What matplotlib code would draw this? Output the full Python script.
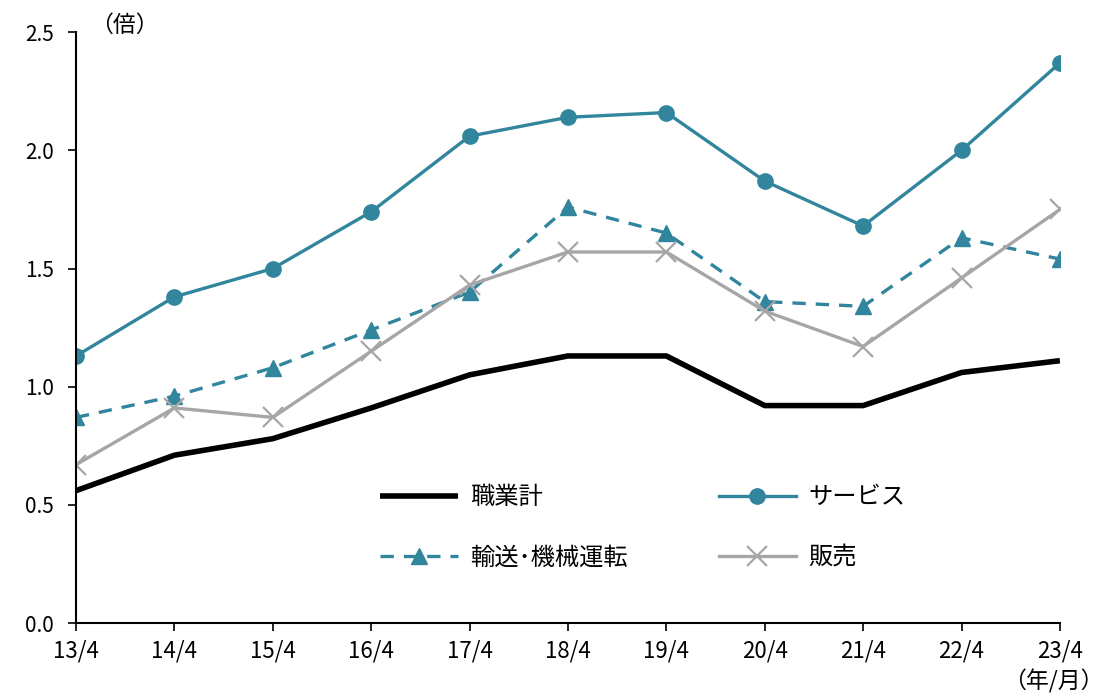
import matplotlib
matplotlib.use("Agg")
import matplotlib.pyplot as plt

plt.rcParams['font.family'] = ['Noto Sans CJK JP', 'DejaVu Sans']

categories = ["13/4", "14/4", "15/4", "16/4", "17/4", "18/4", "19/4", "20/4", "21/4", "22/4", "23/4"]
total = [0.56, 0.71, 0.78, 0.91, 1.05, 1.13, 1.13, 0.92, 0.92, 1.06, 1.11]
service = [1.13, 1.38, 1.50, 1.74, 2.06, 2.14, 2.16, 1.87, 1.68, 2.00, 2.37]
transport = [0.87, 0.96, 1.08, 1.24, 1.40, 1.76, 1.65, 1.36, 1.34, 1.63, 1.54]
sales = [0.67, 0.91, 0.87, 1.15, 1.43, 1.57, 1.57, 1.32, 1.17, 1.46, 1.75]
yticks = [0.0, 0.5, 1.0, 1.5, 2.0, 2.5]

teal = "#31859C"
gray = "#A6A6A6"

fig = plt.figure(figsize=(11.11, 7.0), dpi=100)
ax = fig.add_axes([0.0684, 0.11, 0.954 - 0.0684, 0.844])
x = list(range(len(categories)))

l1, = ax.plot(x, total, color="black", lw=4.0, label="職業計", solid_capstyle="butt")
l3, = ax.plot(x, transport, color=teal, lw=2.4, ls=(0, (4, 3)), marker="^", ms=11,
              markeredgecolor=teal, markerfacecolor=teal, label="輸送･機械運転")
l4, = ax.plot(x, sales, color=gray, lw=2.4, marker="x", ms=14, mew=1.6,
              markeredgecolor=gray, label="販売")
l2, = ax.plot(x, service, color=teal, lw=2.4, marker="o", ms=11,
              markeredgecolor=teal, markerfacecolor=teal, label="サービス")

ax.set_xlim(0, len(categories) - 1)
ax.set_ylim(0, 2.5)
ax.set_yticks(yticks)
ax.set_yticklabels([f"{v:.1f}" for v in yticks])
ax.set_xticks(x)
ax.set_xticklabels(categories)
ax.tick_params(axis="both", length=6, width=1.2, direction="out", colors="black")
ax.tick_params(axis="y", pad=10, labelsize=15)
ax.tick_params(axis="x", pad=6, labelsize=16)
for s in ["top", "right"]:
    ax.spines[s].set_visible(False)
for s in ["left", "bottom"]:
    ax.spines[s].set_linewidth(1.5)
ax.patch.set_alpha(0)

fig.text(0.081, 0.964, "（倍）", fontsize=16.5, ha="left", va="center")
fig.text(0.993, 0.026, "（年/月）", fontsize=16.5, ha="right", va="center")

leg = ax.legend(handles=[l1, l3, l2, l4], ncol=2, frameon=False, fontsize=17.5,
                handlelength=3.2, columnspacing=3.75, labelspacing=1.4, handletextpad=0.5,
                loc="center", bbox_to_anchor=(0.576, 0.162))

fig.savefig("out.png", dpi=100)
